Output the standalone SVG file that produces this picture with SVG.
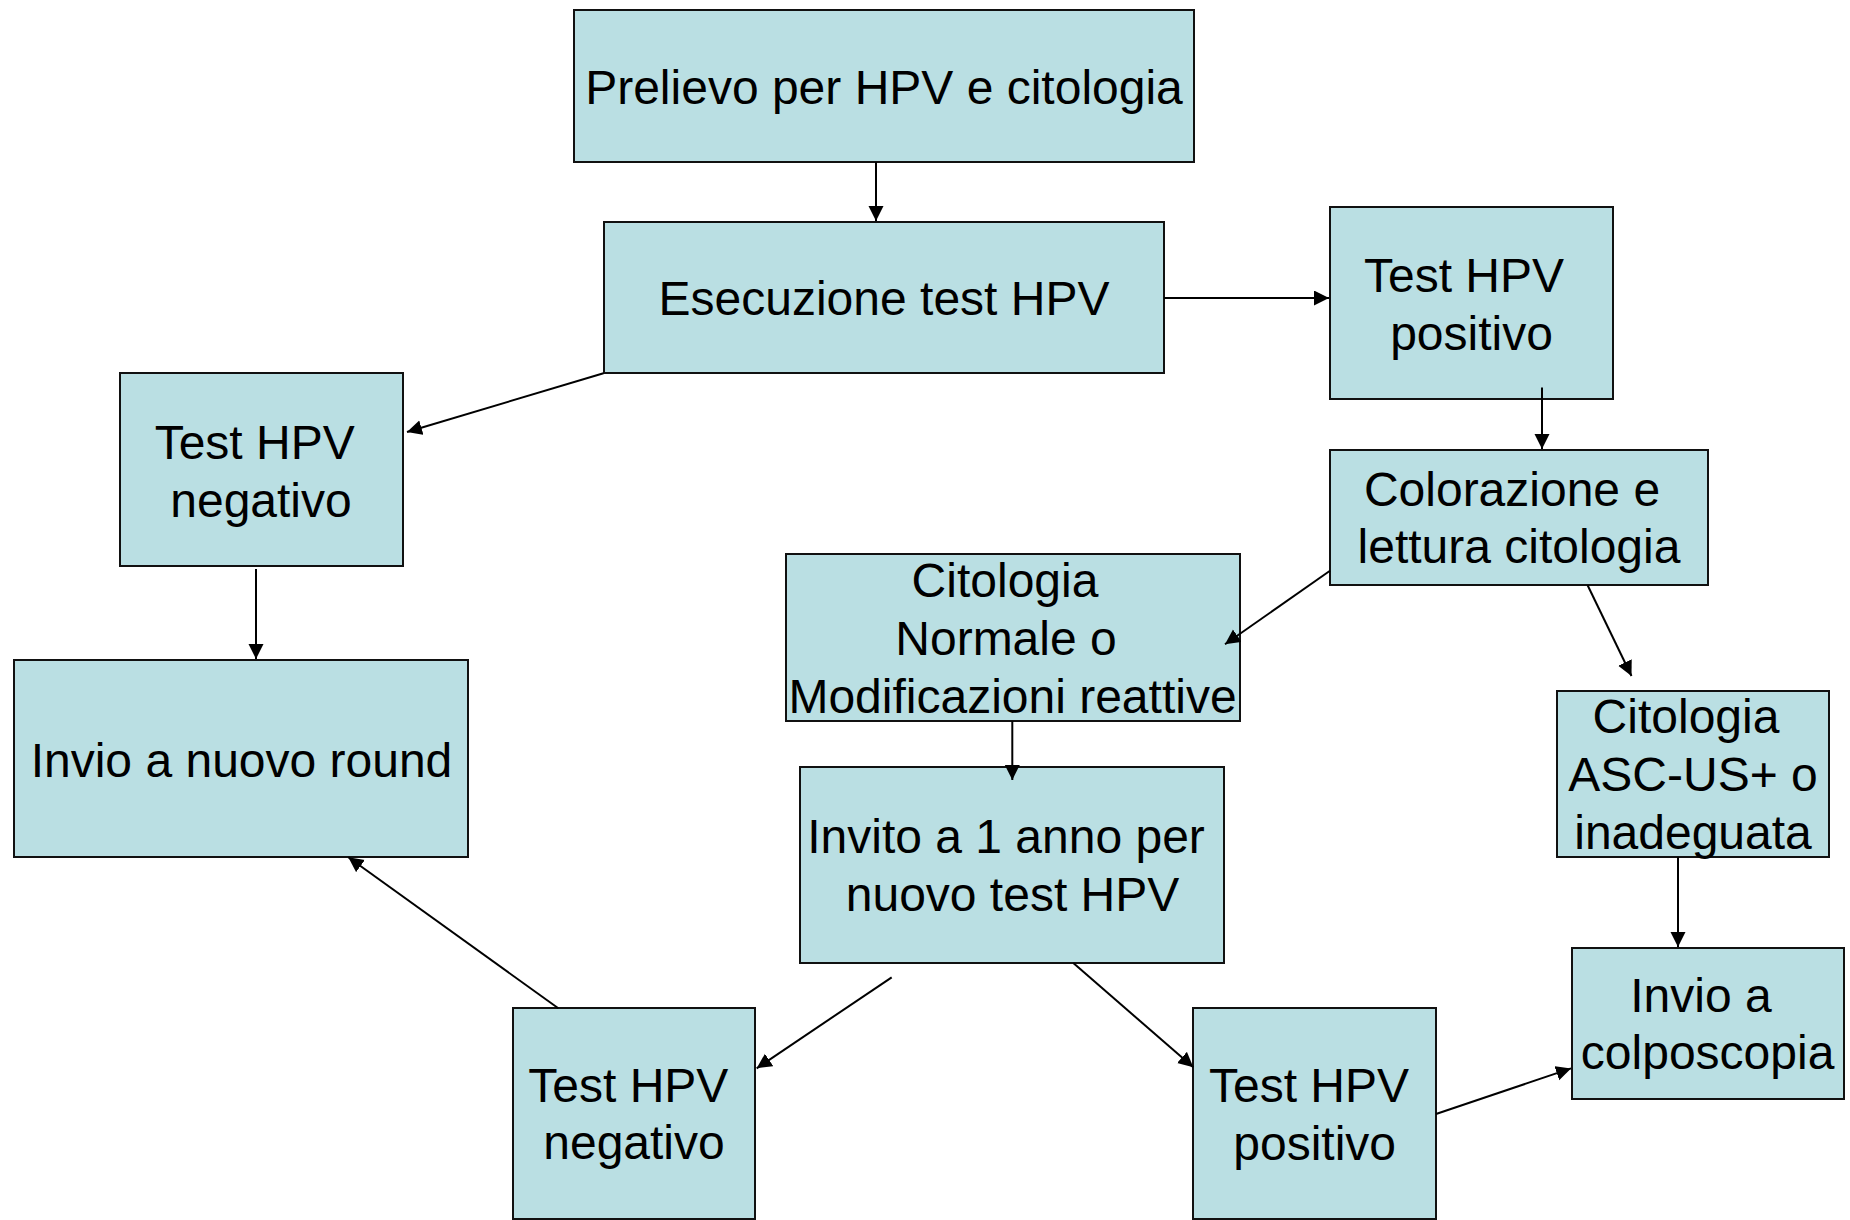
<svg xmlns="http://www.w3.org/2000/svg" width="1850" height="1220" viewBox="0 0 1850 1220">
<style>
.box{fill:#BADFE3;stroke:#111;stroke-width:2}
.t{font-family:"Liberation Sans",Arial,sans-serif;font-size:48px;fill:#000;text-anchor:middle}
.c{stroke:#000;stroke-width:2;fill:none;marker-end:url(#ah)}
</style>
<defs>
<marker id="ah" markerUnits="userSpaceOnUse" markerWidth="16" markerHeight="16" refX="15" refY="7.5" orient="auto">
<path d="M0,0 L15,7.5 L0,15 z" fill="#000"/>
</marker>
</defs>
<rect width="1850" height="1220" fill="#fff"/>
<g id="n1"><rect class="box" x="574" y="10" width="620" height="152"/><text class="t" x="884" y="104">Prelievo per HPV e citologia</text></g>
<g id="n2"><rect class="box" x="604" y="222" width="560" height="151"/><text class="t" x="884" y="315">Esecuzione test HPV</text></g>
<g id="n3"><rect class="box" x="1330" y="207" width="283" height="192"/><text class="t" x="1464" y="292">Test HPV</text><text class="t" x="1471.5" y="350">positivo</text></g>
<g id="n4"><rect class="box" x="120" y="373" width="283" height="193"/><text class="t" x="254.7" y="459">Test HPV</text><text class="t" x="261" y="517">negativo</text></g>
<g id="n5"><rect class="box" x="1330" y="450" width="378" height="135"/><text class="t" x="1512" y="506">Colorazione e</text><text class="t" x="1519" y="563">lettura citologia</text></g>
<g id="n6"><rect class="box" x="786" y="554" width="454" height="167"/><text class="t" x="1005" y="597">Citologia</text><text class="t" x="1006" y="655">Normale o</text><text class="t" x="1012.5" y="713">Modificazioni reattive</text></g>
<g id="n7"><rect class="box" x="14" y="660" width="454" height="197"/><text class="t" x="241.5" y="777">Invio a nuovo round</text></g>
<g id="n8"><rect class="box" x="1557" y="691" width="272" height="166"/><text class="t" x="1686" y="733">Citologia</text><text class="t" x="1693" y="791">ASC-US+ o</text><text class="t" x="1693" y="849">inadeguata</text></g>
<g id="n9"><rect class="box" x="800" y="767" width="424" height="196"/><text class="t" x="1006" y="853">Invito a 1 anno per</text><text class="t" x="1012.5" y="911">nuovo test HPV</text></g>
<g id="n10"><rect class="box" x="1572" y="948" width="272" height="151"/><text class="t" x="1701" y="1012">Invio a</text><text class="t" x="1707.6" y="1069">colposcopia</text></g>
<g id="n11"><rect class="box" x="513" y="1008" width="242" height="211"/><text class="t" x="628.3" y="1102">Test HPV</text><text class="t" x="634" y="1159">negativo</text></g>
<g id="n12"><rect class="box" x="1193" y="1008" width="243" height="211"/><text class="t" x="1309" y="1102">Test HPV</text><text class="t" x="1314.7" y="1160">positivo</text></g>
<g id="connectors">
<line class="c" x1="876" y1="162" x2="876" y2="221"/>
<line class="c" x1="1164" y1="298" x2="1329" y2="298"/>
<line class="c" x1="603.5" y1="373.3" x2="407" y2="432"/>
<line class="c" x1="256" y1="569" x2="256" y2="659"/>
<line class="c" x1="1542" y1="387.5" x2="1542" y2="449"/>
<line class="c" x1="1330" y1="570.7" x2="1225" y2="644.3"/>
<line class="c" x1="1587.6" y1="585.3" x2="1631.5" y2="676"/>
<line class="c" x1="1012.3" y1="721" x2="1012.3" y2="780"/>
<line class="c" x1="1678" y1="857" x2="1678" y2="947"/>
<line class="c" x1="891.7" y1="977.3" x2="756.7" y2="1068.3"/>
<line class="c" x1="1073.3" y1="963" x2="1193.3" y2="1067.3"/>
<line class="c" x1="1436" y1="1114" x2="1571" y2="1068.4"/>
<line class="c" x1="558.3" y1="1008.3" x2="348.3" y2="857.3"/>
</g>
</svg>
